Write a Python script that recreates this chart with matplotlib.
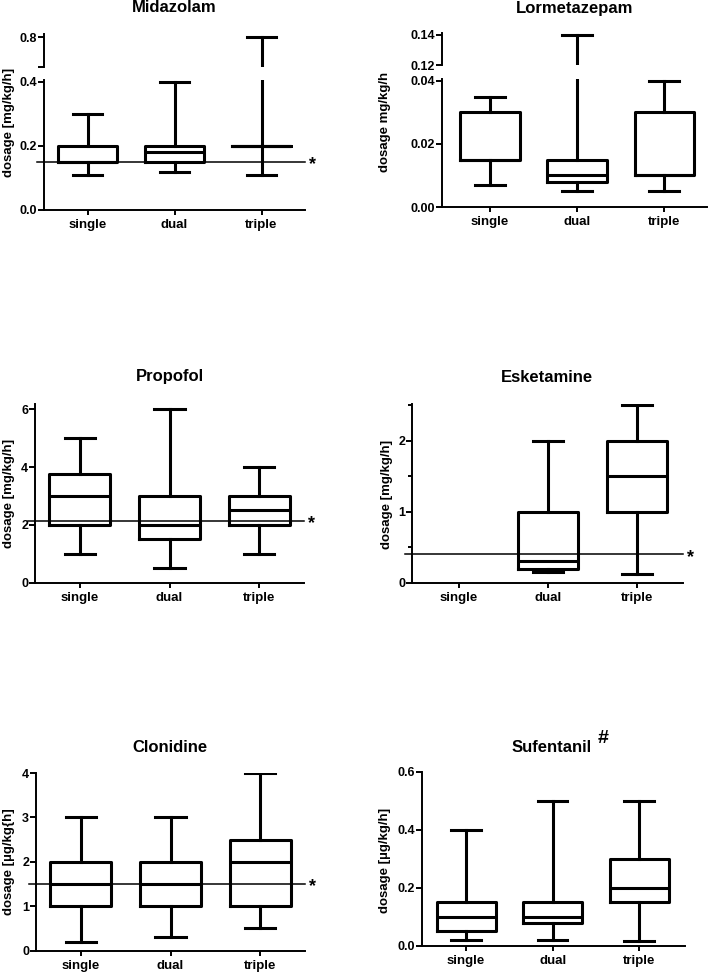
import matplotlib
matplotlib.use("Agg")
import matplotlib.pyplot as plt
import numpy as np

plt.rcParams['font.family'] = ['Liberation Sans', 'DejaVu Sans']
plt.rcParams['font.weight'] = 'bold'
plt.rcParams['axes.labelweight'] = 'bold'

W, H = 709, 972
groups = ["single", "dual", "triple"]

# ---- data: whisker low, q1, median, q3, whisker high for single / dual / triple ----
midazolam_min = [0.11, 0.12, 0.11]
midazolam_q1 = [0.15, 0.15, 0.20]
midazolam_med = [0.15, 0.18, 0.20]
midazolam_q3 = [0.20, 0.20, 0.20]
midazolam_max = [0.30, 0.40, 0.80]
midazolam_ref = 0.15

lormetazepam_min = [0.007, 0.005, 0.005]
lormetazepam_q1 = [0.015, 0.0078, 0.010]
lormetazepam_med = [0.015, 0.010, 0.010]
lormetazepam_q3 = [0.030, 0.015, 0.030]
lormetazepam_max = [0.035, 0.140, 0.040]

propofol_min = [1.0, 0.5, 1.0]
propofol_q1 = [2.0, 1.5, 2.0]
propofol_med = [3.0, 2.0, 2.5]
propofol_q3 = [3.75, 3.0, 3.0]
propofol_max = [5.0, 6.0, 4.0]
propofol_ref = 2.15

esketamine_min = [None, 0.15, 0.12]
esketamine_q1 = [None, 0.20, 1.0]
esketamine_med = [None, 0.30, 1.5]
esketamine_q3 = [None, 1.0, 2.0]
esketamine_max = [None, 2.0, 2.5]
esketamine_ref = 0.40

clonidine_min = [0.2, 0.3, 0.5]
clonidine_q1 = [1.0, 1.0, 1.0]
clonidine_med = [1.5, 1.5, 2.0]
clonidine_q3 = [2.0, 2.0, 2.5]
clonidine_max = [3.0, 3.0, 4.0]
clonidine_ref = 1.5

sufentanil_min = [0.02, 0.02, 0.015]
sufentanil_q1 = [0.05, 0.08, 0.15]
sufentanil_med = [0.10, 0.10, 0.20]
sufentanil_q3 = [0.15, 0.15, 0.30]
sufentanil_max = [0.40, 0.50, 0.50]

fig = plt.figure(figsize=(W / 100, H / 100), dpi=100)

LW_BOX = 2.2
LW_SPINE = 1.4
LW_REF = 1.1


def rect(x0, y0, x1, y1):
    return [x0 / W, 1 - y1 / H, (x1 - x0) / W, (y1 - y0) / H]


def stats(mins, q1s, meds, q3s, maxs):
    out, pos = [], []
    for i in range(len(groups)):
        if mins[i] is None:
            continue
        out.append(dict(whislo=mins[i], q1=q1s[i], med=meds[i], q3=q3s[i],
                        whishi=maxs[i], fliers=[]))
        pos.append(i)
    return out, pos


def draw_boxes(ax, st, pos):
    kw = dict(color='black', linewidth=LW_BOX)
    ax.bxp(st, positions=pos, widths=0.68, capwidths=0.34, showfliers=False,
           boxprops=kw, whiskerprops=kw, capprops=kw, medianprops=kw,
           manage_ticks=False)


def style(ax, xlim, ylim, yticks, ylabels, bottom=True, minor=None):
    ax.set_xlim(*xlim)
    ax.set_ylim(*ylim)
    for s in ['top', 'right']:
        ax.spines[s].set_visible(False)
    ax.spines['left'].set_linewidth(LW_SPINE)
    ax.spines['bottom'].set_linewidth(LW_SPINE)
    ax.set_yticks(yticks)
    ax.set_yticklabels(ylabels)
    if minor is not None:
        ax.set_yticks(minor, minor=True)
        ax.tick_params(axis='y', which='minor', length=3, width=LW_SPINE)
    ax.tick_params(axis='y', which='major', length=4, width=LW_SPINE, pad=1,
                   labelsize=9)
    if bottom:
        ax.set_xticks(range(len(groups)))
        ax.set_xticklabels(groups)
        ax.tick_params(axis='x', length=3.5, width=LW_SPINE, pad=3, labelsize=9.5)
    else:
        ax.spines['bottom'].set_visible(False)
        ax.set_xticks([])
    for lab in ax.get_xticklabels() + ax.get_yticklabels():
        lab.set_fontweight('bold')
    ax.patch.set_alpha(0)


def ref_line(ax, xlim, y):
    ax.plot([xlim[0] - 0.08, xlim[1]], [y, y], color='black', lw=LW_REF,
            clip_on=False)
    ax.annotate('*', xy=(xlim[1], y), xytext=(3, -2), textcoords='offset points',
                ha='left', va='center', fontsize=13, fontweight='bold')


def title(x, y, s):
    fig.text(x / W, 1 - y / H, s, ha='center', va='center', fontsize=12,
             fontweight='bold')


def ylabel(x, y, s):
    fig.text(x / W, 1 - y / H, s, ha='center', va='center', rotation=90,
             fontsize=9.5, fontweight='bold')


# ---- Midazolam (broken axis) ----
xl = (-0.5, 2.5)
st, pos = stats(midazolam_min, midazolam_q1, midazolam_med, midazolam_q3, midazolam_max)
axl = fig.add_axes(rect(44, 80, 305, 210))
draw_boxes(axl, st, pos)
style(axl, xl, (0, 0.406), [0.0, 0.2, 0.4], ['0.0', '0.2', '0.4'])
ref_line(axl, xl, midazolam_ref)
axu = fig.add_axes(rect(44, 34, 305, 67))
draw_boxes(axu, st, pos)
style(axu, xl, (0.7, 0.81), [0.7, 0.8], ['', '0.8'], bottom=False)
title(174, 8, 'Midazolam')
ylabel(9, 122, 'dosage [mg/kg/h]')

# ---- Lormetazepam (broken axis) ----
xl = (-0.55, 2.49)
st, pos = stats(lormetazepam_min, lormetazepam_q1, lormetazepam_med, lormetazepam_q3, lormetazepam_max)
axl = fig.add_axes(rect(442, 79, 707, 207))
draw_boxes(axl, st, pos)
style(axl, xl, (0, 0.0406), [0.0, 0.02, 0.04], ['0.00', '0.02', '0.04'])
axu = fig.add_axes(rect(442, 33, 707, 65))
draw_boxes(axu, st, pos)
style(axu, xl, (0.12, 0.141), [0.12, 0.14], ['0.12', '0.14'], bottom=False)
title(575, 8, 'Lormetazepam')
ylabel(385, 122, 'dosage mg/kg/h')

# ---- Propofol ----
xl = (-0.5, 2.5)
st, pos = stats(propofol_min, propofol_q1, propofol_med, propofol_q3, propofol_max)
ax = fig.add_axes(rect(35, 404, 304, 582.7))
draw_boxes(ax, st, pos)
style(ax, xl, (0, 6.18), [0, 2, 4, 6], ['0', '2', '4', '6'])
ref_line(ax, xl, propofol_ref)
title(170, 377, 'Propofol')
ylabel(9, 493, 'dosage [mg/kg/h]')

# ---- Esketamine ----
xl = (-0.53, 2.52)
st, pos = stats(esketamine_min, esketamine_q1, esketamine_med, esketamine_q3, esketamine_max)
ax = fig.add_axes(rect(412, 404, 683, 582.7))
draw_boxes(ax, st, pos)
style(ax, xl, (0, 2.52), [0, 1, 2], ['0', '1', '2'], minor=[0.5, 1.5, 2.5])
ref_line(ax, xl, esketamine_ref)
title(547, 377, 'Esketamine')
ylabel(387, 494, 'dosage [mg/kg/h]')

# ---- Clonidine ----
xl = (-0.5, 2.5)
st, pos = stats(clonidine_min, clonidine_q1, clonidine_med, clonidine_q3, clonidine_max)
ax = fig.add_axes(rect(36, 773, 305, 950.7))
draw_boxes(ax, st, pos)
style(ax, xl, (0, 4.0), [0, 1, 2, 3, 4], ['0', '1', '2', '3', '4'])
ref_line(ax, xl, clonidine_ref)
title(170, 747, 'Clonidine')
ylabel(9, 862, 'dosage [µg/kg{h]')

# ---- Sufentanil ----
xl = (-0.51, 2.53)
st, pos = stats(sufentanil_min, sufentanil_q1, sufentanil_med, sufentanil_q3, sufentanil_max)
ax = fig.add_axes(rect(422, 771.7, 685, 945.7))
draw_boxes(ax, st, pos)
style(ax, xl, (0, 0.6), [0.0, 0.2, 0.4, 0.6], ['0.0', '0.2', '0.4', '0.6'])
title(552, 747, 'Sufentanil')
fig.text(603 / W, 1 - 738 / H, '#', ha='center', va='center', fontsize=14,
         fontweight='bold')
ylabel(385, 860, 'dosage [µg/kg/h]')

fig.savefig('out.png', dpi=100)
